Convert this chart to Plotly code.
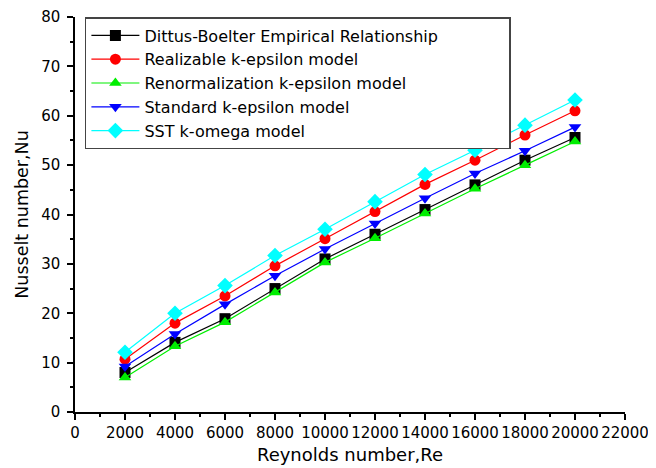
import plotly.graph_objects as go

re_values = [2000, 4000, 6000, 8000, 10000, 12000, 14000, 16000, 18000, 20000]
dittus_boelter = [8.0, 14.1, 18.9, 25.0, 31.0, 36.0, 41.0, 46.0, 51.0, 55.6]
realizable_ke = [10.7, 18.0, 23.5, 29.6, 35.1, 40.6, 46.1, 51.0, 56.1, 61.0]
renormalization_ke = [7.0, 13.3, 18.2, 24.2, 30.3, 35.2, 40.2, 45.2, 50.0, 54.8]
standard_ke = [9.2, 15.8, 21.8, 27.6, 33.0, 38.2, 43.3, 48.3, 52.9, 57.7]
sst_komega = [12.1, 20.0, 25.6, 31.7, 37.0, 42.6, 48.1, 53.0, 58.1, 63.2]

series = [
    ("Dittus-Boelter Empirical Relationship", dittus_boelter, "black", "square"),
    ("Realizable k-epsilon model", realizable_ke, "red", "circle"),
    ("Renormalization k-epsilon model", renormalization_ke, "#00ee00", "triangle-up"),
    ("Standard k-epsilon model", standard_ke, "blue", "triangle-down"),
    ("SST k-omega model", sst_komega, "cyan", "diamond"),
]

FONT = "DejaVu Sans"

fig = go.Figure()
for name, vals, color, sym in series:
    fig.add_trace(go.Scatter(
        x=re_values, y=vals, name=name, mode="lines+markers",
        line=dict(color=color, width=1.2),
        marker=dict(symbol=sym, size=11 if sym != "diamond" else 12, color=color,
                    line=dict(width=0)),
    ))

axis_common = dict(
    showline=True, linecolor="black", linewidth=1.5, mirror=False,
    ticks="outside", ticklen=6, tickwidth=1.5, tickcolor="black",
    showgrid=False, zeroline=False, automargin=False, ticklabeloverflow="allow",
    tickfont=dict(family=FONT, size=15, color="black"),
)

fig.update_xaxes(
    range=[0, 22000], tick0=0, dtick=2000, tickformat="d",
    minor=dict(ticks="outside", ticklen=3, tickwidth=1.5, tickcolor="black", dtick=1000),
    title=dict(text="Reynolds number,Re", font=dict(family=FONT, size=18, color="black"), standoff=8),
    **axis_common,
)
fig.update_yaxes(
    range=[0, 80], tick0=0, dtick=10, ticklabelstandoff=4,
    minor=dict(ticks="outside", ticklen=3, tickwidth=1.5, tickcolor="black", dtick=5),
    title=dict(text="Nusselt number,Nu", font=dict(family=FONT, size=17.5, color="black"), standoff=8),
    **axis_common,
)

fig.update_layout(
    width=648, height=462,
    margin=dict(l=67, r=31, t=9, b=58),
    plot_bgcolor="white", paper_bgcolor="white",
    font=dict(family=FONT, color="black"),
    legend=dict(
        x=0.018, y=1.0, xanchor="left", yanchor="top",
        orientation="h", entrywidthmode="pixels", entrywidth=360,
        bordercolor="#444", borderwidth=1.5, bgcolor="white",
        font=dict(family=FONT, size=16, color="black"),
        itemwidth=48, tracegroupgap=0,
    ),
)

fig.write_html("out.html")
